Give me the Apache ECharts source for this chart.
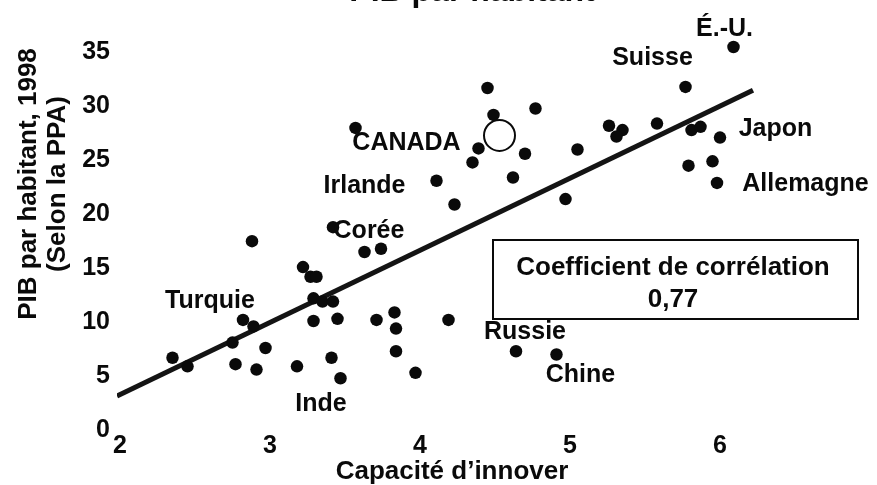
<!DOCTYPE html>
<html>
<head>
<meta charset="utf-8">
<script src="https://cdn.jsdelivr.net/npm/echarts@6/dist/echarts.min.js"></script>
<style>
html,body{margin:0;padding:0;background:#fff;}
#c{width:877px;height:485px;}
</style>
</head>
<body>
<div id="c"></div>
<script>
// Capacité d'innover (x) and PIB par habitant 1998 (y) for each country dot
const innovX = [2.35,2.45,2.82,2.89,2.75,2.97,2.77,2.91,3.18,2.88,3.22,3.27,3.31,3.29,3.35,3.42,3.29,3.45,3.41,3.47,3.63,3.74,3.71,3.83,3.84,3.84,3.97,4.19,4.64,4.91,3.42,3.57,4.11,4.23,4.35,4.39,4.49,4.45,4.77,4.70,4.62,5.05,4.97,5.26,5.35,5.31,5.58,5.77,6.09,5.81,5.87,6.00,5.79,5.95,5.98];
const pibY   = [6.7,5.9,10.2,9.6,8.1,7.6,6.1,5.6,5.9,17.5,15.1,14.2,14.2,12.2,11.9,11.9,10.1,10.3,6.7,4.8,16.5,16.8,10.2,10.9,9.4,7.3,5.3,10.2,7.3,7.0,18.8,28.0,23.1,20.9,24.8,26.1,29.2,31.7,29.8,25.6,23.4,26.0,21.4,28.2,27.8,27.2,28.4,31.8,35.5,27.8,28.1,27.1,24.5,24.9,22.9];
// Canada (open circle)
const canadaX = [4.53];
const canadaY = [27.3];
// Regression line end points
const regX = [1.98, 6.22];
const regY = [3.15, 31.5];
// Country annotations (anchor in data units)
const labelNames = ['É.-U.','Suisse','CANADA','Japon','Irlande','Allemagne','Corée','Turquie','Russie','Chine','Inde'];
const labelX = [6.03,5.55,3.91,6.37,3.63,6.57,3.66,2.60,4.70,5.07,3.34];
const labelY = [37.2,34.5,26.6,27.9,22.6,22.8,18.4,11.9,9.1,5.1,2.4];
// Ticks
const xTicks = [2,3,4,5,6];
const yTicks = [0,5,10,15,20,25,30,35];
const titleText = 'PIB par habitant';
const xName = 'Capacité d’innover';
const yName1 = 'PIB par habitant, 1998';
const yName2 = '(Selon la PPA)';
const boxLine1 = 'Coefficient de corrélation';
const boxLine2 = '0,77';

const FONT = '"Liberation Sans", Arial, sans-serif';
const INK = '#0a0a0a';

const pts = innovX.map((x,i)=>[x,pibY[i]]);
const canada = canadaX.map((x,i)=>[x,canadaY[i]]);
const reg = regX.map((x,i)=>[x,regY[i]]);
const labs = labelNames.map((n,i)=>({name:n,value:[labelX[i],labelY[i]]}));

const chart = echarts.init(document.getElementById('c'), null, {renderer:'canvas'});
chart.setOption({
  backgroundColor:'#fff',
  animation:false,
  grid:{left:120,right:7,top:20,bottom:55},
  xAxis:{
    type:'value',min:2,max:7,interval:1,
    axisLine:{show:false},axisTick:{show:false},splitLine:{show:false},
    axisLabel:{margin:4,color:INK,fontFamily:FONT,fontWeight:'bold',fontSize:25,
      formatter:v=>xTicks.indexOf(v)>=0?String(v):''}
  },
  yAxis:{
    type:'value',min:0,max:38,interval:5,
    axisLine:{show:false},axisTick:{show:false},splitLine:{show:false},
    axisLabel:{margin:10,color:INK,fontFamily:FONT,fontWeight:'bold',fontSize:25,
      formatter:v=>yTicks.indexOf(v)>=0?String(v):''}
  },
  series:[
    {type:'line',data:reg,symbol:'none',silent:true,
     lineStyle:{color:'#141414',width:5},z:2},
    {type:'scatter',data:pts,symbol:'circle',symbolSize:12.5,silent:true,clip:false,
     itemStyle:{color:INK,opacity:1},z:3},
    {type:'scatter',data:canada,symbol:'circle',symbolSize:31,silent:true,
     itemStyle:{color:'#fff',borderColor:INK,borderWidth:2,opacity:1},z:4},
    {type:'scatter',data:labs,symbolSize:1,silent:true,clip:false,
     itemStyle:{color:'transparent',opacity:1},
     label:{show:true,position:'inside',formatter:p=>p.name,color:INK,
       fontFamily:FONT,fontWeight:'bold',fontSize:25},z:5}
  ],
  graphic:[
    {type:'text',style:{text:titleText,x:472,y:-8,align:'center',verticalAlign:'middle',
      font:'bold 32px '+FONT,fill:INK}},
    {type:'text',style:{text:xName,x:452,y:472,align:'center',verticalAlign:'middle',
      font:'bold 26px '+FONT,fill:INK}},
    {type:'text',rotation:Math.PI/2,x:29,y:184,style:{text:yName1,x:0,y:0,align:'center',verticalAlign:'middle',
      font:'bold 26px '+FONT,fill:INK}},
    {type:'text',rotation:Math.PI/2,x:58,y:184,style:{text:yName2,x:0,y:0,align:'center',verticalAlign:'middle',
      font:'bold 26px '+FONT,fill:INK}},
    {type:'rect',shape:{x:493,y:240,width:365,height:79},
      style:{fill:'#fff',stroke:INK,lineWidth:2},z:10},
    {type:'text',style:{text:boxLine1,x:673,y:268,align:'center',verticalAlign:'middle',
      font:'bold 26px '+FONT,fill:INK},z:11},
    {type:'text',style:{text:boxLine2,x:673,y:300,align:'center',verticalAlign:'middle',
      font:'bold 26px '+FONT,fill:INK},z:11}
  ]
});
</script>
</body>
</html>
